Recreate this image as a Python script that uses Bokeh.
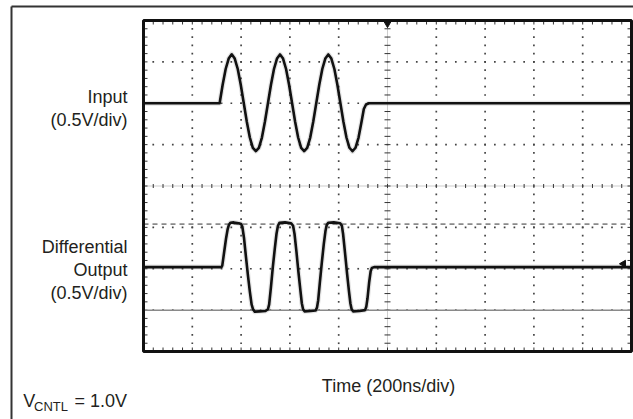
import numpy as np
from bokeh.plotting import figure
from bokeh.models import Range1d, Label
from bokeh.embed import file_html
from bokeh.resources import INLINE

# ---------------- data (read from the scope shot) ----------------
time_per_div_ns = 200
volts_per_div = 0.5
n_xdiv = 10
n_ydiv = 8

# Input trace (V, relative to its own ground) vs time (ns)
input_t_ns = [0, 312.0, 324.4, 336.8, 349.1, 361.5, 373.9, 386.3, 398.6,
              411.0, 423.4, 435.8, 448.1, 460.5, 472.9, 485.3, 497.6,
              510.0, 522.4, 534.8, 547.1, 559.5, 571.9, 584.3, 596.6,
              609.0, 621.4, 633.8, 646.1, 658.5, 670.9, 683.3, 695.6,
              708.0, 720.4, 732.8, 745.1, 757.5, 769.9, 782.3, 794.6,
              807.0, 819.4, 831.8, 844.1, 856.5, 868.9, 881.3, 893.6,
              903.0, 912.0, 924.0, 2000]
input_v = [0.0, 0.0, 0.224, 0.414, 0.540, 0.592, 0.540, 0.414, 0.224,
           0.0, -0.224, -0.414, -0.538, -0.578, -0.538, -0.414, -0.224,
           0.0, 0.224, 0.414, 0.540, 0.590, 0.540, 0.414, 0.224,
           0.0, -0.224, -0.414, -0.538, -0.578, -0.538, -0.414, -0.224,
           0.0, 0.224, 0.414, 0.540, 0.590, 0.540, 0.414, 0.224,
           0.0, -0.224, -0.414, -0.538, -0.580, -0.538, -0.414, -0.224,
           -0.07, -0.015, 0.0, 0.0]

# Differential output trace (V) vs time (ns)
output_t_ns = [0, 320, 323, 330, 338, 345, 350, 356, 370, 390, 400, 405,
               412, 420, 428, 436, 443, 449, 456, 475, 500, 510, 515, 522,
               530, 538, 545, 551, 557, 580, 605, 613, 619, 627, 635, 643,
               649, 654, 660, 685, 705, 711, 716, 723, 731, 739, 746, 751,
               757, 780, 806, 813, 818, 826, 834, 842, 848, 853, 859, 885,
               908, 913, 918, 925, 931, 936, 945, 2000]
output_v = [0.0, 0.0, 0.02, 0.17, 0.34, 0.46, 0.51, 0.535, 0.54, 0.53, 0.52, 0.49,
            0.35, 0.12, -0.10, -0.30, -0.45, -0.51, -0.54, -0.535, -0.53, -0.51, -0.45, -0.25,
            0.0, 0.22, 0.40, 0.50, 0.535, 0.54, 0.53, 0.50, 0.40, 0.18, -0.06, -0.28,
            -0.44, -0.51, -0.535, -0.53, -0.525, -0.49, -0.40, -0.18, 0.06, 0.28, 0.44, 0.51,
            0.535, 0.54, 0.53, 0.50, 0.40, 0.17, -0.07, -0.29, -0.44, -0.51, -0.535, -0.53,
            -0.52, -0.48, -0.38, -0.18, -0.05, -0.01, 0.0, 0.0]

input_offset_v = 1.0
output_offset_v = -0.98
cursor_high_v = -0.46
cursor_low_v = -1.50
trigger_t_ns = 1000
level_marker_t_ns = 1967
level_marker_v = -0.94

input_labels = ["Input", "(0.5V/div)"]
output_labels = ["Differential", "Output", "(0.5V/div)"]
x_label = "Time (200ns/div)"
cond_main = "V"
cond_sub = "CNTL"
cond_rest = "= 1.0V"

FONT = "Liberation Sans"
TXT = "#231f20"

# ---------------- layout (pixels) ----------------
W, H = 633, 419
SCR_L, SCR_R, SCR_T, SCR_B = 143, 631, 20, 351
x_max = time_per_div_ns * n_xdiv
y_half = volts_per_div * n_ydiv / 2
px_x = x_max / (SCR_R - SCR_L)
px_y = 2 * y_half / (SCR_B - SCR_T)


def dx(px):
    return (px - SCR_L) * px_x


def dy(py):
    return y_half - (py - SCR_T) * px_y


p = figure(width=W, height=H, output_backend="svg", toolbar_location=None,
           x_range=Range1d(dx(0), dx(W)), y_range=Range1d(dy(H), dy(0)),
           x_axis_location=None, y_axis_location=None,
           min_border=0)
p.xgrid.visible = False
p.ygrid.visible = False
p.outline_line_color = None
p.background_fill_color = "white"
p.border_fill_color = "white"

# outer frame (top and left edges visible)
p.segment(x0=[dx(11), dx(11)], y0=[dy(6), dy(6)], x1=[dx(W + 20), dx(11)],
          y1=[dy(6), dy(H + 20)], line_color="#333333", line_width=2)

# ---------------- graticule ----------------
xs_minor = np.arange(0, x_max + 1e-6, time_per_div_ns / 5)
ys_minor = np.arange(-y_half, y_half + 1e-6, volts_per_div / 5)

gx, gy = [], []
for k in range(1, n_xdiv):
    if k == n_xdiv // 2:
        continue
    xv = k * time_per_div_ns
    for yv in ys_minor[1:-1]:
        gx.append(xv); gy.append(yv)
for k in range(1, n_ydiv):
    if k == n_ydiv // 2:
        continue
    yv = -y_half + k * volts_per_div
    for xv in xs_minor[1:-1]:
        gx.append(xv); gy.append(yv)
p.scatter(gx, gy, marker="square", size=1.7, color="#444444", line_width=0)

# center lines (dotted) with ticks
cx = x_max / 2
p.line([0, x_max], [0, 0], line_color="#9a9a9a", line_width=1, line_dash="1 1")
p.line([cx, cx], [-y_half, y_half], line_color="#9a9a9a", line_width=1, line_dash="1 1")
p.segment(x0=[cx - 3 * px_x] * len(ys_minor), x1=[cx + 3 * px_x] * len(ys_minor),
          y0=list(ys_minor), y1=list(ys_minor), line_color="#333333", line_width=1)
p.segment(x0=list(xs_minor), x1=list(xs_minor),
          y0=[-2 * px_y] * len(xs_minor), y1=[2 * px_y] * len(xs_minor),
          line_color="#333333", line_width=1)

# edge ticks
tl = 4
p.segment(x0=[0] * len(ys_minor), x1=[tl * px_x] * len(ys_minor),
          y0=list(ys_minor), y1=list(ys_minor), line_color="#333333", line_width=1)
p.segment(x0=[x_max] * len(ys_minor), x1=[x_max - tl * px_x] * len(ys_minor),
          y0=list(ys_minor), y1=list(ys_minor), line_color="#333333", line_width=1)
p.segment(x0=list(xs_minor), x1=list(xs_minor),
          y0=[-y_half] * len(xs_minor), y1=[-y_half + tl * px_y] * len(xs_minor),
          line_color="#333333", line_width=1)
p.segment(x0=list(xs_minor), x1=list(xs_minor),
          y0=[y_half] * len(xs_minor), y1=[y_half - tl * px_y] * len(xs_minor),
          line_color="#333333", line_width=1)

# cursors
p.line([0, x_max], [cursor_high_v, cursor_high_v], line_color="#333333",
       line_width=1, line_dash="5 4")
p.line([0, x_max], [cursor_low_v, cursor_low_v], line_color="#8a8a8a",
       line_width=1.5)

# ---------------- traces ----------------
in_y = [v + input_offset_v for v in input_v]
out_y = [v + output_offset_v for v in output_v]
for xs, ys in ((input_t_ns, in_y), (output_t_ns, out_y)):
    p.line(xs, ys, line_color="#7a7a7a", line_width=5, line_alpha=0.2,
           line_join="round")
    p.line(xs, ys, line_color="#111111", line_width=2.6, line_join="round")

# screen border
p.quad(left=[0], right=[x_max], bottom=[-y_half], top=[y_half],
       fill_alpha=0, line_color="#111111", line_width=3)

# markers
p.scatter([trigger_t_ns], [y_half - 2.5 * px_y], marker="inverted_triangle",
          size=8, color="#111111")
p.scatter([level_marker_t_ns], [level_marker_v], marker="triangle", angle=np.pi / 2,
          size=7, color="#111111")

# ---------------- texts ----------------
def add_text(txt, px, py, size=18, align="right"):
    p.add_layout(Label(x=dx(px), y=dy(py), text=txt,
                       text_font=FONT, text_font_size=f"{size}px",
                       text_color=TXT, text_align=align,
                       text_baseline="alphabetic"))


add_text(input_labels[0], 127, 96)
add_text(input_labels[1], 127, 119.3)
add_text(output_labels[0], 127, 246)
add_text(output_labels[1], 127, 269.3)
add_text(output_labels[2], 127, 292.3)
add_text(x_label, 388, 385, align="center")
add_text(cond_main, 22.7, 400, align="left")
add_text(cond_sub, 33.5, 406, size=13, align="left")
add_text(cond_rest, 74, 400, align="left")

open("out.html", "w").write(file_html(p, INLINE))
